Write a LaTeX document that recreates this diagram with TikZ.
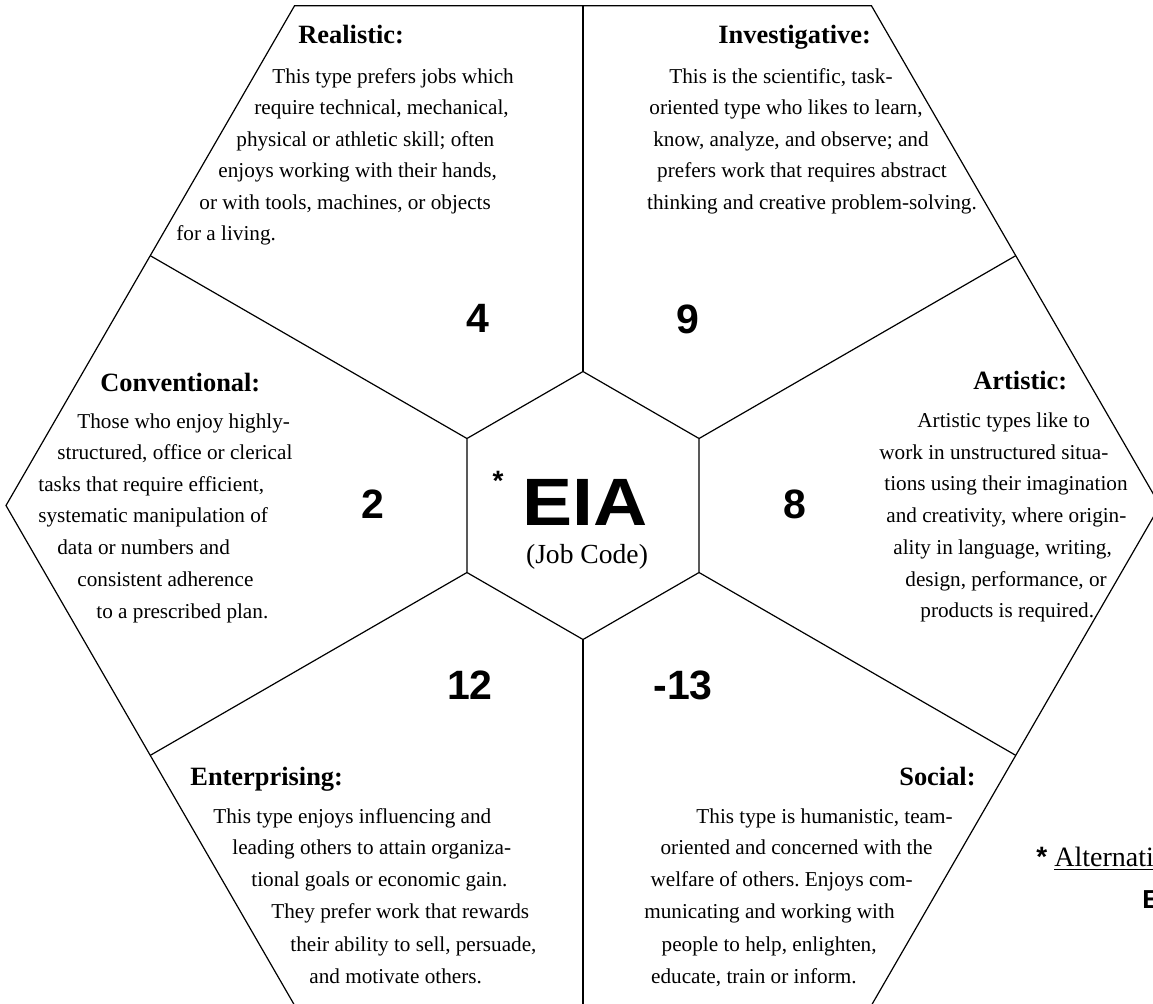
\documentclass[tikz,border=0pt]{standalone}
\usepackage{fontspec}
\setmainfont{Liberation Serif}
\newfontfamily\sansfont{Liberation Sans}
\usepackage{graphicx}
\usetikzlibrary{calc}
\frenchspacing

\begin{document}
\begin{tikzpicture}[x=0.5pt, y=-0.5pt,
	hexline/.style={line width=0.6pt},
	bodytext/.style={inner sep=0pt, anchor=base west, yshift=-3pt,
		font=\fontsize{10.6}{15.75}\selectfont},
	typename/.style={inner sep=0pt, anchor=base west, yshift=-4pt,
		font=\fontsize{13.2}{16}\selectfont\bfseries},
	score/.style={inner sep=0pt, font=\sansfont\bfseries\fontsize{20.5}{22}\selectfont}]

% parameters %{{{2

	\def\outerradius{577}
	\def\innerradius{134}
	\def\apothem{499.7}

% frame %{{{2

	\useasboundingbox (0,0) rectangle (1153,1003);
	\clip (0,0) rectangle (1153,1003);

% coordinates %{{{2

	\coordinate (O) at (583,505.5);
	\foreach \i in {1,...,6} {
		\coordinate (P\i) at ($(O)+({60*(\i-1)}:\outerradius)$);
		\coordinate (Q\i) at ($(O)+({60*(\i-1)+30}:\innerradius)$);
		\coordinate (M\i) at ($(O)+({60*(\i-1)+30}:\apothem)$);
	}

% hexagons %{{{2

	\draw[hexline] (P1) \foreach \i in {2,...,6} { -- (P\i) } -- cycle;
	\draw[hexline] (Q1) \foreach \i in {2,...,6} { -- (Q\i) } -- cycle;

% dividers %{{{2

	\foreach \i in {1,...,6} { \draw[hexline] (Q\i) -- (M\i); }

% realistic %{{{2

	\node[typename] (realistic) at (298,35) {Realistic:};
	\foreach \txt/\xx/\yy [count=\n] in {
		{This type prefers jobs which}/272/77,
		{require technical, mechanical,}/254/108,
		{physical or athletic skill; often}/236/140,
		{enjoys working with their hands,}/218/171,
		{or with tools, machines, or objects}/199/203,
		{for a living.}/176/234}
	{ \node[bodytext] (realistic-\n) at (\xx,\yy) {\txt}; }

% investigative %{{{2

	\node[typename] (investigative) at (718,35) {Investigative:};
	\foreach \txt/\xx/\yy [count=\n] in {
		{This is the scientific, task-}/781/77,
		{oriented type who likes to learn,}/786/108,
		{know, analyze, and observe; and}/791/140,
		{prefers work that requires abstract}/802/171,
		{thinking and creative problem-solving.}/812/203}
	{ \node[bodytext, anchor=base] (investigative-\n) at (\xx,\yy) {\txt}; }

% conventional %{{{2

	\node[typename] (conventional) at (100,383) {Conventional:};
	\foreach \txt/\xx/\yy [count=\n] in {
		{Those who enjoy highly-}/77/422,
		{structured, office or clerical}/57/453,
		{tasks that require efficient,}/38/485,
		{systematic manipulation of}/38/516,
		{data or numbers and}/57/548,
		{consistent adherence}/77/580,
		{to a prescribed plan.}/96/612}
	{ \node[bodytext] (conventional-\n) at (\xx,\yy) {\txt}; }

% artistic %{{{2

	\node[typename] (artistic) at (973,381) {Artistic:};
	\foreach \txt/\xx/\yy [count=\n] in {
		{Artistic types like to}/917/421,
		{work in unstructured situa-}/879/453,
		{tions using their imagination}/884/484,
		{and creativity, where origin-}/886/516,
		{ality in language, writing,}/893/548,
		{design, performance, or}/905/580,
		{products is required.}/920/611}
	{ \node[bodytext] (artistic-\n) at (\xx,\yy) {\txt}; }

% enterprising %{{{2

	\node[typename] (enterprising) at (190,777) {Enterprising:};
	\foreach \txt/\xx/\yy [count=\n] in {
		{This type enjoys influencing and}/213/817,
		{leading others to attain organiza-}/232/848,
		{tional goals or economic gain.}/251/880,
		{They prefer work that rewards}/271/912,
		{their ability to sell, persuade,}/290/945,
		{and motivate others.}/309/977}
	{ \node[bodytext] (enterprising-\n) at (\xx,\yy) {\txt}; }

% social %{{{2

	\node[typename, anchor=base east] (social) at (976,777) {Social:};
	\foreach \txt/\xx/\yy [count=\n] in {
		{This type is humanistic, team-}/953/817,
		{oriented and concerned with the}/933/848,
		{welfare of others. Enjoys com-}/913/880,
		{municating and working with}/895/912,
		{people to help, enlighten,}/877/945,
		{educate, train or inform.}/857/977}
	{ \node[bodytext, anchor=base east] (social-\n) at (\xx,\yy) {\txt}; }

% scores %{{{2

	\node[score] (score-r) at (478,318) {4};
	\node[score] (score-i) at (688,319) {9};
	\node[score] (score-c) at (373,504) {2};
	\node[score] (score-a) at (795,504) {8};
	\node[score] (score-e) at (470,685) {12};
	\node[score] (score-s) at (683,685) {-13};

% job code %{{{2

	\node[inner sep=0pt, font=\sansfont\bfseries\fontsize{14}{16}\selectfont]
		(star) at (498,481) {*};
	\node[inner sep=0pt, font=\sansfont\bfseries\fontsize{33.5}{36}\selectfont]
		(code) at (585,502) {\scalebox{1.12}[1]{EIA}};
	\node[inner sep=0pt, font=\fontsize{13.8}{16}\selectfont]
		(jobcode) at (587,557) {(Job Code)};

% note %{{{2

	\node[inner sep=0pt, anchor=base west, font=\fontsize{14}{16}\selectfont]
		(note) at (1036,866) {{\sansfont\bfseries *}\ \underline{Alternati}};
	\node[inner sep=0pt, anchor=base west, font=\sansfont\bfseries\fontsize{13}{15}\selectfont]
		(notecode) at (1142,908) {E};

\end{tikzpicture}
\end{document}
